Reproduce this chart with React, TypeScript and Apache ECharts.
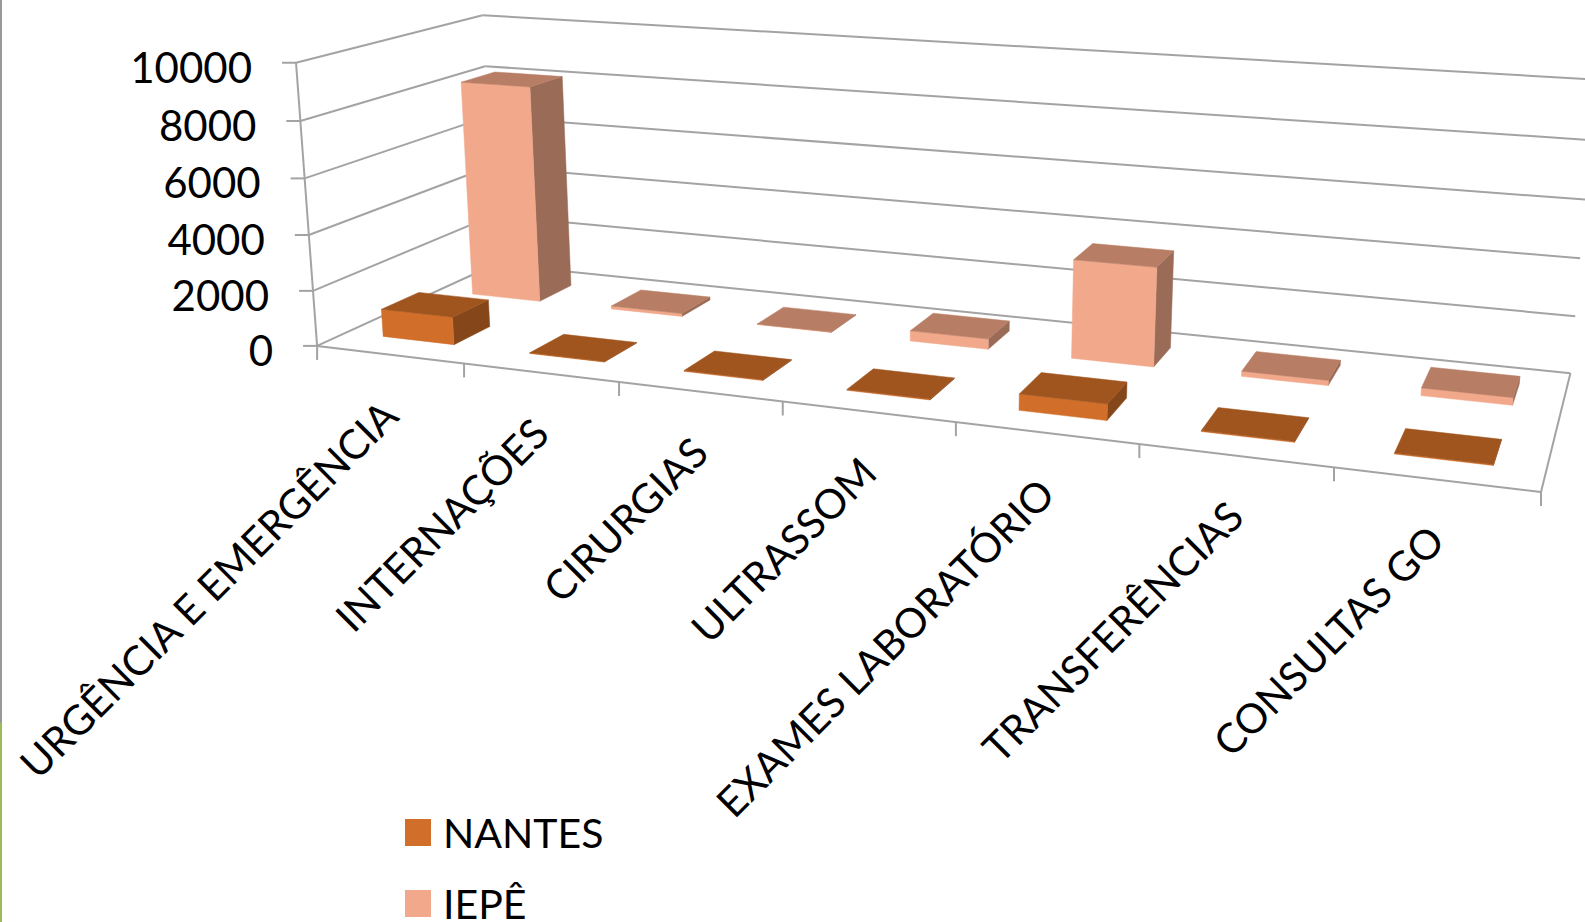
import React, { useEffect, useRef } from "react";
import * as echarts from "echarts";

const categories = ["URGÊNCIA E EMERGÊNCIA", "INTERNAÇÕES", "CIRURGIAS", "ULTRASSOM", "EXAMES LABORATÓRIO", "TRANSFERÊNCIAS", "CONSULTAS GO"];
const nantes = [1000, 20, 30, 30, 550, 30, 30];
const iepe = [8150, 110, 15, 370, 3500, 180, 260];
const valueTicks = [0, 2000, 4000, 6000, 8000, 10000];

const FONT = "Lato";
const FS = 42;
const FS_CAT = 41;
const GRID_C = "#A3A3A3";
const NANTES_C = { front: "#D16E2A", top: "#A0551E", side: "#85461A" };
const IEPE_C = { front: "#F2A88B", top: "#B87E65", side: "#9A6B56" };
const BAR_W = 0.49;
const BAR_D = 0.2;

// Perspective camera fitted to the eight-corner box of the chart
const anchors: number[][] = [
  [0, 0, 0, 318.4, 344.3],
  [0, 1, 0, 494, 266],
  [1, 1, 0, 1570.7, 371.7],
  [1, 0, 0, 1541, 493.3],
  [0, 0, 1, 294.7, 63.3],
  [0, 1, 1, 484, 14.3],
  [1, 1, 1, 1595, 80],
];

function fitCamera(): number[] {
  const n = 11;
  const A: number[][] = Array.from({ length: n }, () => new Array(n + 1).fill(0));
  const add = (row: number[], t: number) => {
    for (let i = 0; i < n; i++) {
      for (let j = 0; j < n; j++) A[i][j] += row[i] * row[j];
      A[i][n] += row[i] * t;
    }
  };
  for (const [u, v, w, x, y] of anchors) {
    add([u, v, w, 1, 0, 0, 0, 0, -x * u, -x * v, -x * w], x);
    add([0, 0, 0, 0, u, v, w, 1, -y * u, -y * v, -y * w], y);
  }
  for (let i = 0; i < n; i++) {
    let p = i;
    for (let r = i + 1; r < n; r++) if (Math.abs(A[r][i]) > Math.abs(A[p][i])) p = r;
    [A[i], A[p]] = [A[p], A[i]];
    for (let r = 0; r < n; r++) {
      if (r === i) continue;
      const f = A[r][i] / A[i][i];
      for (let c = i; c <= n; c++) A[r][c] -= f * A[i][c];
    }
  }
  return A.map((row, i) => row[n] / row[i]);
}
const cam = fitCamera();
function project(u: number, v: number, w: number): number[] {
  const d = cam[8] * u + cam[9] * v + cam[10] * w + 1;
  return [
    (cam[0] * u + cam[1] * v + cam[2] * w + cam[3]) / d,
    (cam[4] * u + cam[5] * v + cam[6] * w + cam[7]) / d,
  ];
}

function worldOf(params: any, api: any, cat: number, value: number) {
  const cs = params.coordSys;
  const p = api.coord([cat, value]);
  const band = api.size([1, 0])[0];
  return { u: (p[0] - cs.x) / cs.width, w: (cs.y + cs.height - p[1]) / cs.height, du: band / cs.width };
}

const poly = (points: number[][], fill: string) => ({
  type: "polygon",
  shape: { points },
  style: { fill, stroke: fill, lineWidth: 0.5 },
});

function barRenderer(depth: number, colors: { front: string; top: string; side: string }) {
  return (params: any, api: any) => {
    const cat = api.value(0);
    const { u, w, du } = worldOf(params, api, cat, api.value(1));
    const hw = (du * BAR_W) / 2;
    const u0 = u - hw, u1 = u + hw;
    const v0 = depth - BAR_D / 2, v1 = depth + BAR_D / 2;
    return {
      type: "group",
      children: [
        poly([project(u1, v0, 0), project(u1, v1, 0), project(u1, v1, w), project(u1, v0, w)], colors.side),
        poly([project(u0, v0, 0), project(u1, v0, 0), project(u1, v0, w), project(u0, v0, w)], colors.front),
        poly([project(u0, v0, w), project(u1, v0, w), project(u1, v1, w), project(u0, v1, w)], colors.top),
      ],
    };
  };
}

const seg = (a: number[], b: number[]) => ({
  type: "line",
  shape: { x1: a[0], y1: a[1], x2: b[0], y2: b[1] },
  style: { stroke: GRID_C, lineWidth: 2 },
});

function valueFrameRenderer(params: any, api: any) {
  const { w } = worldOf(params, api, 0, api.value(0));
  const f = project(0, 0, w);
  const b = project(0, 1, w);
  const r = project(1, 1, w);
  const children: any[] = [
    seg(f, b),
    seg(b, r),
    seg([f[0] - 14, f[1]], f),
    {
      type: "text",
      x: f[0] - 44,
      y: f[1] + 4,
      style: { text: String(api.value(0)), fontFamily: FONT, fontSize: FS, fill: "#000", align: "right", verticalAlign: "middle" },
    },
  ];
  if (api.value(0) === 0) {
    children.push(seg(project(0, 0, 0), project(1, 0, 0)), seg(project(1, 0, 0), project(1, 1, 0)), seg(project(0, 0, 0), project(0, 0, 1)));
    for (let k = 0; k <= categories.length; k++) {
      const t = project(k / categories.length, 0, 0);
      children.push(seg(t, [t[0], t[1] + 14]));
    }
  }
  return { type: "group", children };
}

function categoryLabelRenderer(params: any, api: any) {
  const cat = api.value(0);
  const { u } = worldOf(params, api, cat, 0);
  const p = project(u, 0, 0);
  return {
    type: "text",
    x: p[0],
    y: p[1] + 53,
    rotation: Math.PI / 4,
    style: { text: categories[cat], fontFamily: FONT, fontSize: FS_CAT, fill: "#000", align: "right", verticalAlign: "middle" },
  };
}

export default function App() {
  const ref = useRef<HTMLDivElement>(null);
  useEffect(() => {
    document.body.style.margin = "0";
    document.body.style.background = "#fff";
    const chart = echarts.init(ref.current!, undefined, { renderer: "svg" });
    chart.setOption({
      animation: false,
      backgroundColor: "#fff",
      grid: { left: 100, top: 100, width: 700, height: 700, show: false },
      xAxis: { type: "category", data: categories, show: false },
      yAxis: { type: "value", min: 0, max: 10000, interval: 2000, show: false },
      legend: {
        data: ["NANTES", "IEPÊ"],
        orient: "vertical",
        left: 400,
        top: 807,
        width: 300,
        height: 300,
        itemWidth: 26,
        itemHeight: 27,
        itemGap: 30,
        icon: "rect",
        selectedMode: false,
        textStyle: { fontFamily: FONT, fontSize: FS_CAT, lineHeight: 30, color: "#000", padding: [0, 0, 0, 7] },
      },
      graphic: [
        { type: "rect", shape: { x: 0, y: 0, width: 2, height: 723 }, style: { fill: "#9A9A9A" }, silent: true },
        { type: "rect", shape: { x: 0, y: 723, width: 2, height: 199 }, style: { fill: "#9BBB59" }, silent: true },
      ],
      series: [
        {
          type: "custom",
          name: "frame",
          z: 1,
          silent: true,
          clip: false,
          data: valueTicks.map((v) => [v]),
          encode: { y: 0 },
          renderItem: valueFrameRenderer,
        },
        {
          type: "custom",
          name: "labels",
          z: 1,
          silent: true,
          clip: false,
          data: categories.map((_, i) => [i]),
          encode: { x: 0 },
          renderItem: categoryLabelRenderer,
        },
        {
          type: "custom",
          name: "IEPÊ",
          z: 2,
          silent: true,
          clip: false,
          itemStyle: { color: IEPE_C.front },
          data: iepe.map((v, i) => [i, v]),
          encode: { x: 0, y: 1 },
          renderItem: barRenderer(0.75, IEPE_C),
        },
        {
          type: "custom",
          name: "NANTES",
          z: 3,
          silent: true,
          clip: false,
          itemStyle: { color: NANTES_C.front },
          data: nantes.map((v, i) => [i, v]),
          encode: { x: 0, y: 1 },
          renderItem: barRenderer(0.25, NANTES_C),
        },
      ],
    });
    return () => chart.dispose();
  }, []);
  return <div ref={ref} style={{ width: 1585, height: 922 }} />;
}
